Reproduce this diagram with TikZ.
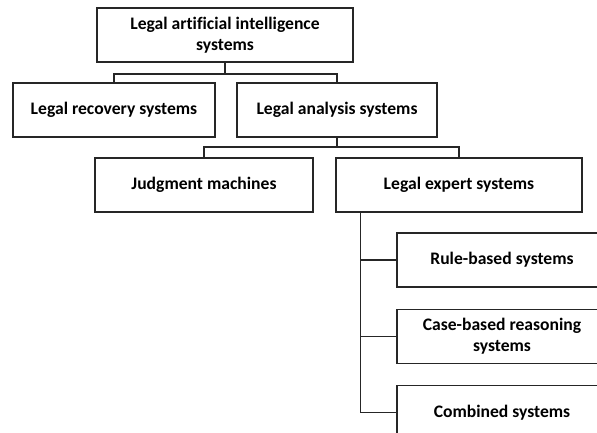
\documentclass[tikz,border=0pt]{standalone}
\usepackage{fontspec}
\setmainfont[Ligatures=NoCommon]{Carlito}
\usetikzlibrary{positioning}

\begin{document}
\begin{tikzpicture}[x=1pt,y=-1pt,line width=1.2pt,draw=black!85]
  \tikzstyle{box}=[draw=black!85,line width=1.2pt,minimum height=54pt,align=center,inner sep=2pt,
    font=\fontsize{17.6}{20.5}\selectfont\bfseries]
  \useasboundingbox (0,0) rectangle (597,432);
  % first level
  \node[box,minimum width=256pt] (lai) at (225,35) {Legal artificial intelligence\\systems};
  \node[box,minimum width=202pt] (rec) at (114,110) {Legal recovery systems};
  \node[box,minimum width=200pt] (ana) at (337,110) {Legal analysis systems};
  % second level
  \node[box,minimum width=218pt] (jud) at (204,185) {Judgment machines};
  \node[box,minimum width=246pt] (exp) at (459,185) {Legal expert systems};
  % kinds of expert systems, cut by the right edge
  \node[box,minimum width=210pt] (rule) at (502,260) {Rule-based systems};
  \node[box,minimum width=210pt,below=21pt of rule] (cbr) {Case-based reasoning\\systems};
  \node[box,minimum width=210pt,below=21pt of cbr] (comb) {Combined systems};
  % connectors
  \coordinate (j1) at (225,74);
  \coordinate (j2) at (337,147);
  \draw (lai.south) -- (j1);
  \draw (rec.north) |- (j1) -| (ana.north);
  \draw (ana.south) -- (j2);
  \draw (jud.north) |- (j2) -| (exp.north);
  \draw ([xshift=25pt]exp.south west) |- (rule.west);
  \draw ([xshift=25pt]exp.south west) |- (cbr.west);
  \draw ([xshift=25pt]exp.south west) |- (comb.west);
\end{tikzpicture}
\end{document}
